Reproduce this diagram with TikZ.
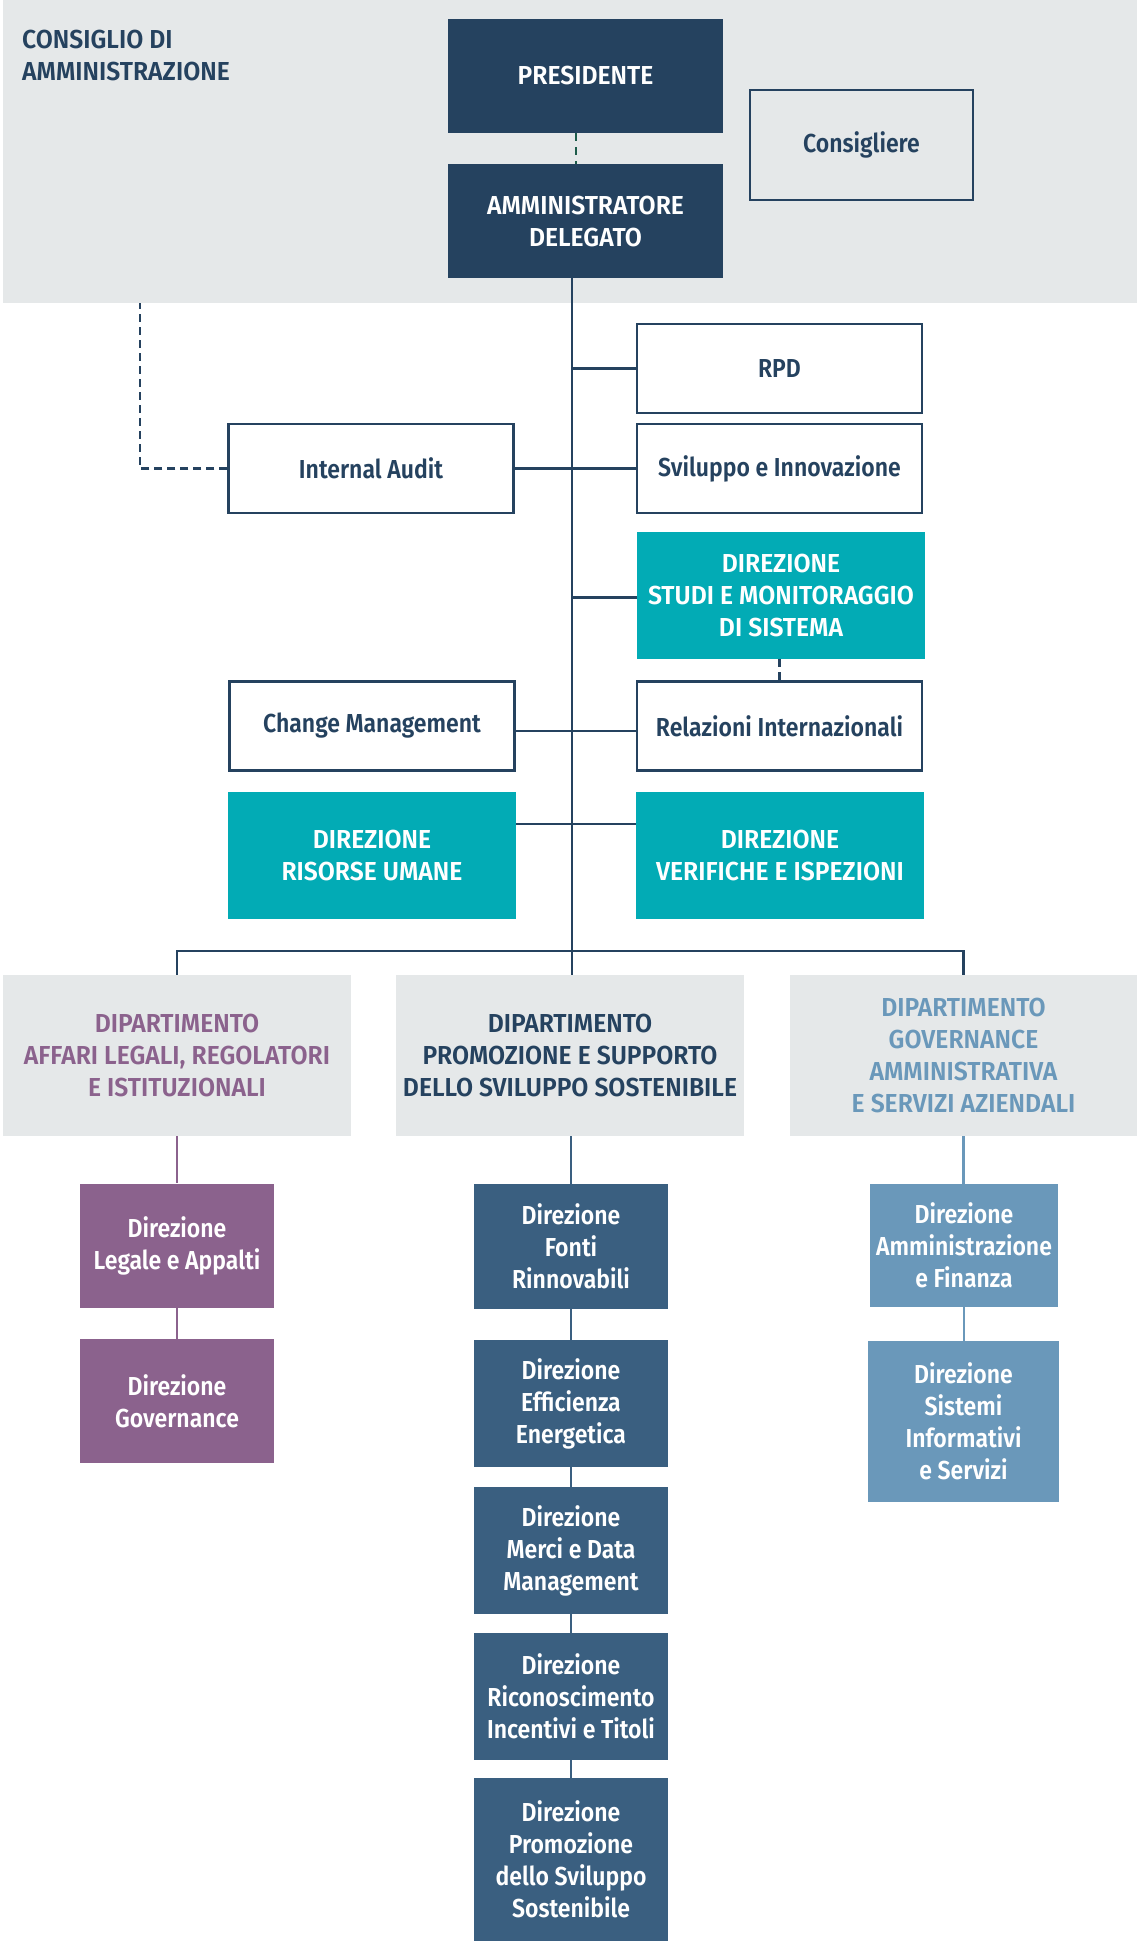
\documentclass[tikz,border=0pt]{standalone}
\usepackage{fontspec}
\setmainfont{Fira Sans SemiBold}[FakeStretch=0.95]
\newfontfamily\mixedfont{Fira Sans SemiBold}[FakeStretch=0.885]
\usetikzlibrary{positioning}

\definecolor{cdanavy}{HTML}{25425F}
\definecolor{cdagrey}{HTML}{E5E8E9}
\definecolor{dirteal}{HTML}{02ABB5}
\definecolor{legpurple}{HTML}{8B628D}
\definecolor{problue}{HTML}{3A5F80}
\definecolor{govblue}{HTML}{6A98BA}
\definecolor{dashgreen}{HTML}{1D5C4A}

\tikzset{
  every node/.style={font=\fontsize{26}{32}\selectfont, align=center, inner sep=0pt},
  navybox/.style={fill=cdanavy, text=white, minimum width=275pt, minimum height=114pt},
  whitebox/.style={draw=cdanavy, line width=2.5pt, fill=white, text=cdanavy, font=\mixedfont\fontsize{26}{32}\selectfont, minimum width=285pt, minimum height=89pt},
  tealbox/.style={fill=dirteal, text=white, minimum width=288pt, minimum height=127pt},
  deptbox/.style={fill=cdagrey, minimum width=348pt, minimum height=161pt},
  dirbox/.style={text=white, font=\mixedfont\fontsize{26}{32}\selectfont, minimum width=194pt, minimum height=127pt},
  conn/.style={draw=cdanavy, line width=2.5pt},
  dashline/.style={draw=cdanavy, line width=2.5pt, dash pattern=on 8pt off 5pt},
}

\begin{document}
\begin{tikzpicture}[x=1pt,y=-1pt]
    \useasboundingbox (0,0) rectangle (1137,1941);
    %% board band
    \fill[cdagrey] (3,0) rectangle (1137,303);
    \node[anchor=north west, align=left, text=cdanavy] (cda) at (22,30) {CONSIGLIO DI\\AMMINISTRAZIONE};
    \node[navybox] (pres) at (585.5,76) {PRESIDENTE};
    \node[navybox] (ad) at (585.5,221) {AMMINISTRATORE\\DELEGATO};
    \node[whitebox, fill=none, minimum width=223pt, minimum height=110pt] (cons) at (861.5,145) {Consigliere};
    \coordinate (cdaedge) at (140,303);
    \coordinate (trunk) at (572,951);

    %% staff
    \node[whitebox] (rpd) at (779.5,368.5) {RPD};
    \node[whitebox] (svil) at (779.5,468.5) {Sviluppo e Innovazione};
    \node[whitebox] (audit) at (371,468.5) {Internal Audit};
    \node[tealbox] (studi) at (781,595.5) {DIREZIONE\\STUDI E MONITORAGGIO\\DI SISTEMA};
    \node[whitebox] (change) at (372,726) {Change Management};
    \node[whitebox] (rel) at (779.5,726) {Relazioni Internazionali};
    \node[tealbox] (hr) at (372,855.5) {DIREZIONE\\RISORSE UMANE};
    \node[tealbox] (ver) at (780,855.5) {DIREZIONE\\VERIFICHE E ISPEZIONI};

    %% departments
    \node[deptbox, text=legpurple] (dipleg) at (177,1055.5) {DIPARTIMENTO\\AFFARI LEGALI, REGOLATORI\\E ISTITUZIONALI};
    \node[deptbox, text=cdanavy] (dippro) at (570,1055.5) {DIPARTIMENTO\\PROMOZIONE E SUPPORTO\\DELLO SVILUPPO SOSTENIBILE};
    \node[deptbox, text=govblue] (dipgov) at (963.5,1055.5) {DIPARTIMENTO\\GOVERNANCE\\AMMINISTRATIVA\\E SERVIZI AZIENDALI};

    %% directions
    \node[dirbox, fill=legpurple, minimum height=124pt] (legale) at (177,1245.5) {Direzione\\Legale e Appalti};
    \node[dirbox, fill=legpurple, minimum height=124pt] (govern) at (177,1401) {Direzione\\Governance};
    \node[dirbox, fill=problue, minimum height=125pt] (fonti) at (571,1246.5) {Direzione\\Fonti\\Rinnovabili};
    \node[dirbox, fill=problue] (effic) at (571,1403.5) {Direzione\\Efficienza\\Energetica};
    \node[dirbox, fill=problue] (merci) at (571,1550.5) {Direzione\\Merci e Data\\Management};
    \node[dirbox, fill=problue] (ricon) at (571,1696.5) {Direzione\\Riconoscimento\\Incentivi e Titoli};
    \node[dirbox, fill=problue, minimum height=163pt] (promo) at (571,1859.5) {Direzione\\Promozione\\dello Sviluppo\\Sostenibile};
    \node[dirbox, fill=govblue, minimum width=188pt, minimum height=123pt] (ammin) at (964,1245.5) {Direzione\\Amministrazione\\e Finanza};
    \node[dirbox, fill=govblue, minimum width=191pt, minimum height=161pt] (sistemi) at (963.5,1421.5) {Direzione\\Sistemi\\Informativi\\e Servizi};

    %% connectors
    \draw[dashgreen, line width=2pt, dash pattern=on 8pt off 6pt] ([xshift=-9.5pt]pres.south) -- ([xshift=-9.5pt]ad.north);
    \draw[conn] (ad.south -| trunk) -- (trunk);
    \draw[conn] (rpd.west) -- (rpd.west -| trunk);
    \draw[conn] (audit.east) -- (svil.west);
    \draw[conn] ([yshift=-2pt]studi.west) -- ([yshift=-2pt]studi.west -| trunk);
    \draw[conn] ([yshift=-5pt]change.east) -- ([yshift=-5pt]rel.west);
    \draw[conn] ([yshift=-32pt]hr.north east) -- ([yshift=-32pt]hr.north east -| ver.west);
    \draw[dashline] (studi.south -| rel.north) -- (rel.north);
    \draw[dashline] (audit.west) -| (cdaedge);
    \draw[conn] (dipleg.north) |- (trunk) -| (dipgov.north);
    \draw[conn] (trunk) -- (trunk |- dippro.north);
    %% column lines
    \draw[legpurple, line width=2.5pt] (dipleg.south) -- (legale.north);
    \draw[legpurple, line width=2.5pt] (legale.south) -- (govern.north);
    \draw[problue, line width=2.5pt] (fonti.north |- dippro.south) -- (fonti.north);
    \foreach \a/\b in {fonti/effic, effic/merci, merci/ricon, ricon/promo}
        \draw[problue, line width=2.5pt] (\a.south) -- (\b.north);
    \draw[govblue, line width=2.5pt] (dipgov.south) -- (ammin.north -| dipgov.south);
    \draw[govblue, line width=2.5pt] (ammin.south) -- (sistemi.north -| ammin.south);
\end{tikzpicture}
\end{document}
